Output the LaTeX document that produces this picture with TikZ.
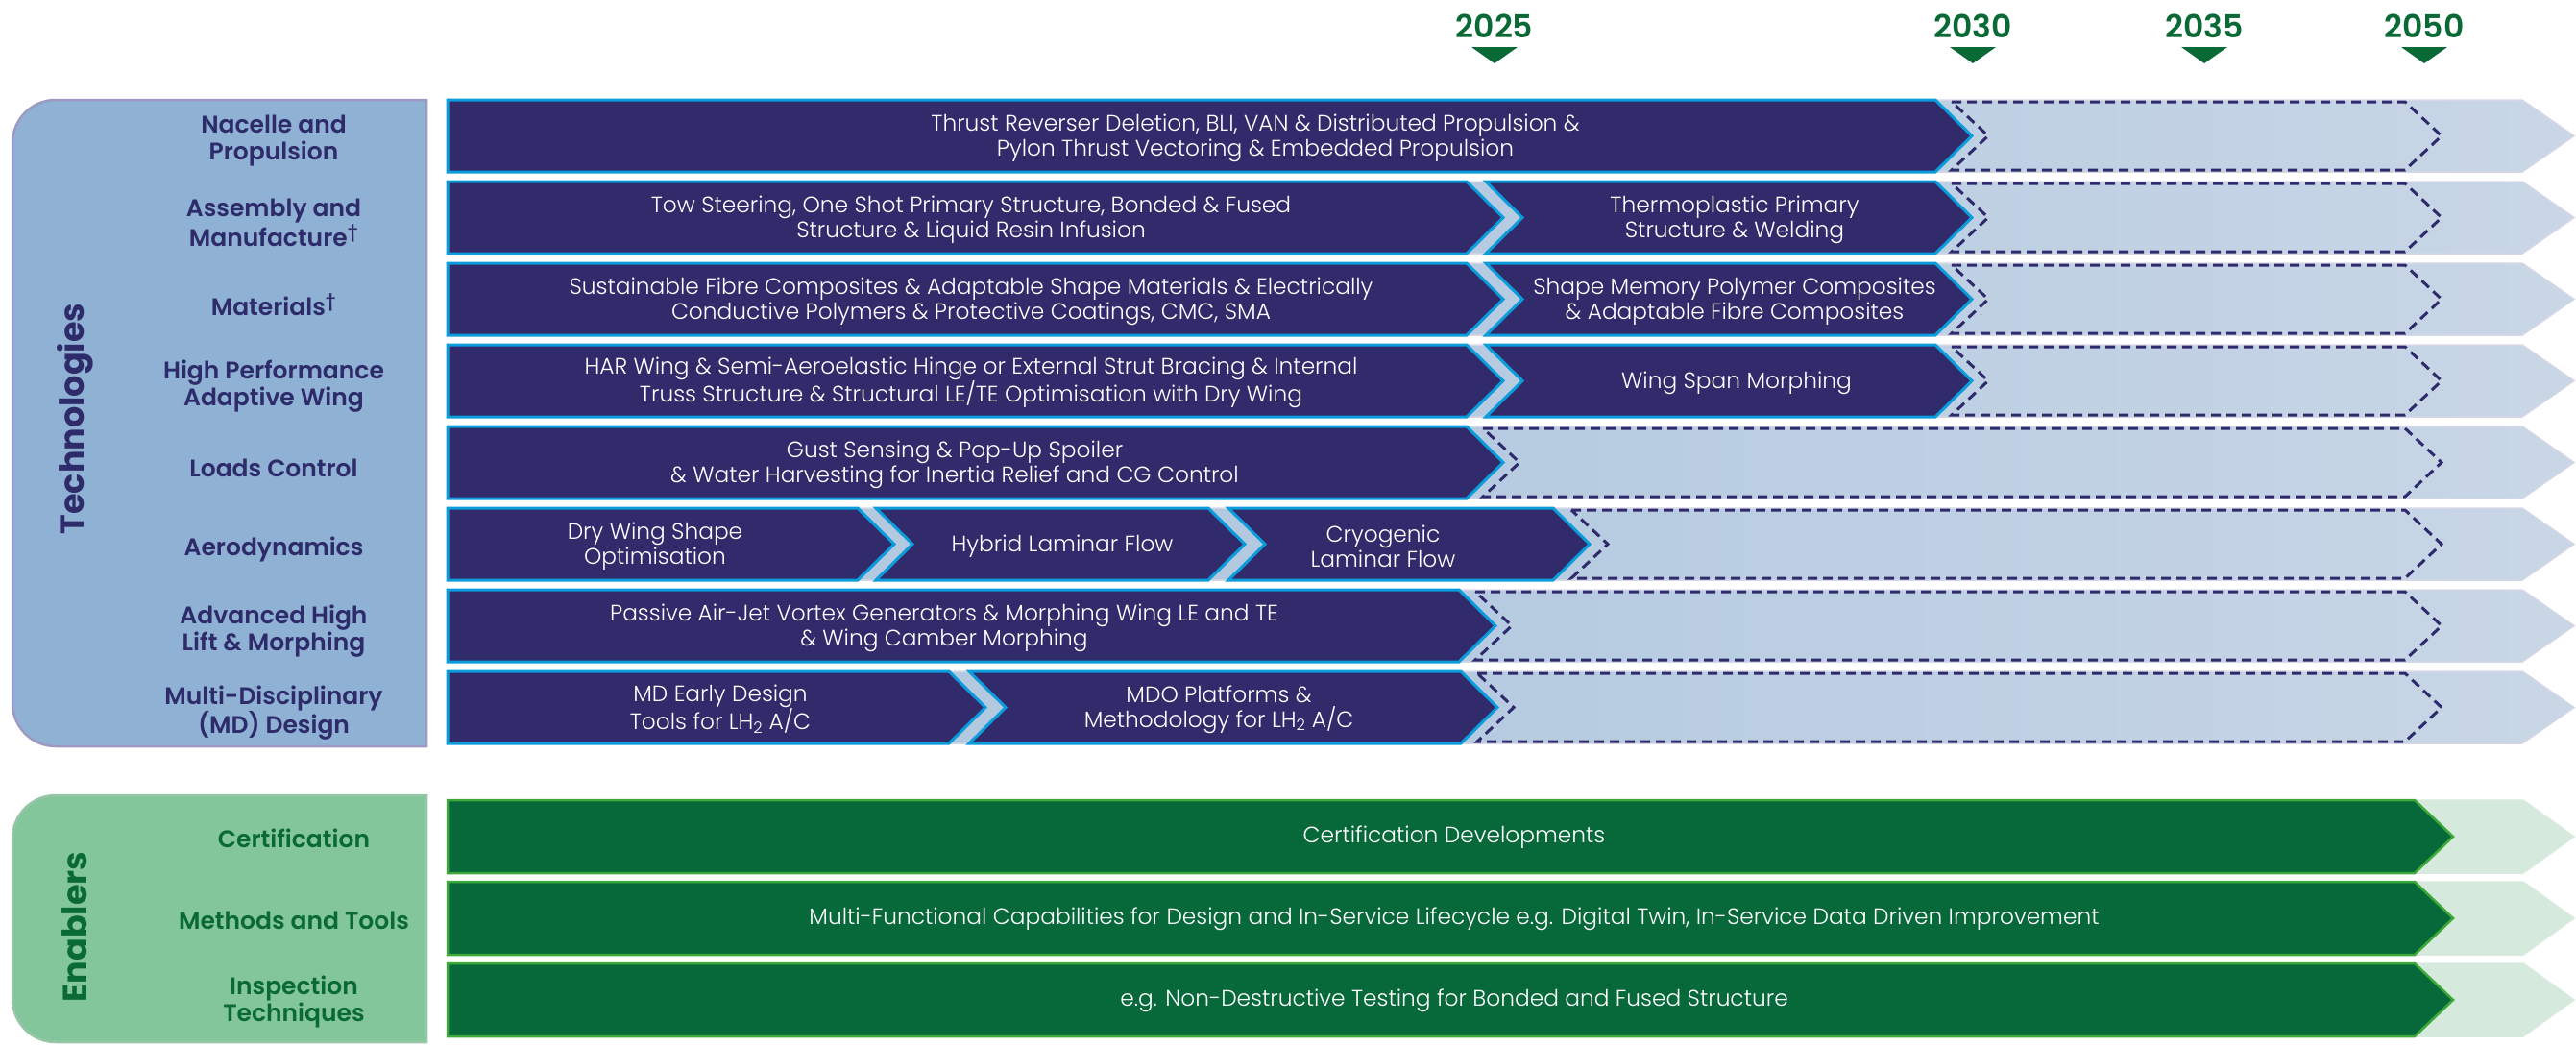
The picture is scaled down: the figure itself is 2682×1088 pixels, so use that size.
\documentclass[tikz,border=0pt]{standalone}
\usepackage{fontspec}
\setmainfont{Poppins}[UprightFont=* Light, BoldFont=* SemiBold]
\newfontfamily\headfont{Poppins}[UprightFont=* Bold]

\definecolor{navy}{HTML}{312B6C}
\definecolor{cyanedge}{HTML}{0A9CDB}
\definecolor{bandA}{HTML}{B3C9E0}
\definecolor{bandB}{HTML}{D2DCE9}
\definecolor{bandC}{HTML}{DCE4EE}
\definecolor{bandedge}{HTML}{D5D7E7}
\definecolor{dashcol}{HTML}{2E2A6B}
\definecolor{panelblue}{HTML}{8FB1D4}
\definecolor{panelblueedge}{HTML}{9C9AC2}
\definecolor{labnavy}{HTML}{2E2B6B}
\definecolor{darkgreen}{HTML}{07693A}
\definecolor{greenedge}{HTML}{3CA938}
\definecolor{lightgreen}{HTML}{D5EADD}
\definecolor{lightgreenedge}{HTML}{D9E9DF}
\definecolor{panelgreen}{HTML}{84C69C}
\definecolor{panelgreenedge}{HTML}{96C5A8}
\definecolor{labgreen}{HTML}{0A6A36}

\pgfdeclarehorizontalshading{bandshade}{100bp}{color(0bp)=(bandA); color(45bp)=(bandA); color(88bp)=(bandB); color(100bp)=(bandC)}

% background band of a technology row (top edge #1)
\newcommand\techband[1]{\path[bandstyle] (466,#1) -- (2626,#1) -- (2680,#1+37.5) -- (2626,#1+75) -- (466,#1+75) -- cycle;}
% first dark segment of a row, ending at #2
\newcommand\darkfirst[2]{\path[segstyle] (466,#1) -- (#2,#1) -- (#2+38,#1+37.5) -- (#2,#1+75) -- (466,#1+75) -- cycle;}
% following dark segment, notched at #2, ending at #3
\newcommand\darknext[3]{\path[segstyle] (#2,#1) -- (#3,#1) -- (#3+38,#1+37.5) -- (#3,#1+75) -- (#2,#1+75) -- (#2+38,#1+37.5) -- cycle;}
% dashed outline of the future part of a row, starting at #2
\newcommand\dashtail[2]{\path[dashstyle] (#2,#1+2) -- (2504,#1+2) -- (2542,#1+37.5) -- (2504,#1+73) -- (#2,#1+73) -- (#2+38,#1+37.5) -- cycle;}
% enabler row: light band and dark green arrow
\newcommand\greenrow[1]{%
  \path[gbandstyle] (466,#1) -- (2627,#1) -- (2680,#1+38) -- (2627,#1+76) -- (466,#1+76) -- cycle;
  \path[gsegstyle] (466,#1) -- (2514,#1) -- (2554,#1+38) -- (2514,#1+76) -- (466,#1+76) -- cycle;}

\begin{document}
\begin{tikzpicture}[x=1pt,y=-1pt,
  bandstyle/.style={shading=bandshade, draw=bandedge, line width=1.5pt},
  segstyle/.style={fill=navy, draw=cyanedge, line width=3pt, line join=miter},
  dashstyle/.style={draw=dashcol, line width=3pt, dash pattern=on 10pt off 6pt},
  gbandstyle/.style={fill=lightgreen, draw=lightgreenedge, line width=1.5pt},
  gsegstyle/.style={fill=darkgreen, draw=greenedge, line width=2.5pt, line join=miter},
  bartext/.style={text=white, align=center, inner sep=0pt, font=\fontsize{23.3}{26}\selectfont},
  techlabel/.style={text=labnavy, align=center, inner sep=0pt, font=\fontsize{25}{28}\selectfont\bfseries},
  enablabel/.style={text=labgreen, align=center, inner sep=0pt, font=\fontsize{25}{28}\selectfont\bfseries},
  yeartext/.style={text=labgreen, inner sep=0pt, font=\fontsize{33}{34}\selectfont\bfseries},
  yearmark/.style={fill=labgreen},
  paneltitle/.style={rotate=90, inner sep=0pt, font=\fontsize{35}{38}\selectfont\headfont}]
\useasboundingbox (0,0) rectangle (2682,1088);

% year markers
\node[yeartext] (y2025) at (1556,27) {2025};
\node[yeartext] (y2030) at (2054,27) {2030};
\node[yeartext] (y2035) at (2295,27) {2035};
\node[yeartext] (y2050) at (2524,27) {2050};
\foreach \xc in {1556,2054,2295,2524}
  \path[yearmark] (\xc-24,49) -- (\xc+24,49) -- (\xc,66) -- cycle;

% side panels
\path[fill=panelblue, draw=panelblueedge, line width=2.5pt]
  (444,104) -- (58,104) arc[start angle=-90, end angle=-180, radius=45]
  -- (13,732) arc[start angle=180, end angle=90, radius=45] -- (444,777) -- cycle;
\path[fill=panelgreen, draw=panelgreenedge, line width=2.5pt]
  (444,828) -- (58,828) arc[start angle=-90, end angle=-180, radius=45]
  -- (13,1040) arc[start angle=180, end angle=90, radius=45] -- (444,1085) -- cycle;
\node[paneltitle, text=labnavy] (techtitle) at (78,436) {Technologies};
\node[paneltitle, text=labgreen] (enabtitle) at (78,965) {Enablers};

% technology rows
\foreach \t in {104,189,274,359,444,529,614,699} {\techband{\t}}
\darkfirst{104}{2015}
\darkfirst{189}{1527} \darknext{189}{1547}{2015}
\darkfirst{274}{1527} \darknext{274}{1547}{2015}
\darkfirst{359}{1527} \darknext{359}{1547}{2015}
\darkfirst{444}{1527}
\darkfirst{529}{893} \darknext{529}{912}{1258} \darknext{529}{1279}{1617}
\darkfirst{614}{1519}
\darkfirst{699}{988} \darknext{699}{1009}{1521}
\dashtail{104}{2032}
\dashtail{189}{2032}
\dashtail{274}{2032}
\dashtail{359}{2032}
\dashtail{444}{1544}
\dashtail{529}{1636}
\dashtail{614}{1536}
\dashtail{699}{1538}

% enabler rows
\greenrow{833}
\greenrow{918}
\greenrow{1003}

% row labels
\node[techlabel] (l1) at (285,147) {Nacelle and\\Propulsion};
\node[techlabel] (l2) at (285,232) {Assembly and\\Manufacture\textsuperscript{†}};
\node[techlabel] (l3) at (285,317) {Materials\textsuperscript{†}};
\node[techlabel] (l4) at (285,402) {High Performance\\Adaptive Wing};
\node[techlabel] (l5) at (285,487) {Loads Control};
\node[techlabel] (l6) at (285,572) {Aerodynamics};
\node[techlabel] (l7) at (285,657) {Advanced High\\Lift \& Morphing};
\node[techlabel] (l8) at (285,742) {Multi-Disciplinary\\(MD) Design};
\node[enablabel] (e1) at (306,873) {Certification};
\node[enablabel] (e2) at (306,958) {Methods and Tools};
\node[enablabel] (e3) at (306,1043) {Inspection\\Techniques};

% bar texts
\node[bartext] (r1a) at (1307,143.5) {Thrust Reverser Deletion, BLI, VAN \& Distributed Propulsion \&\\Pylon Thrust Vectoring \& Embedded Propulsion};
\node[bartext] (r2a) at (1011,228.5) {Tow Steering, One Shot Primary Structure, Bonded \& Fused\\Structure \& Liquid Resin Infusion};
\node[bartext] (r2b) at (1806,228.5) {Thermoplastic Primary\\Structure \& Welding};
\node[bartext] (r3a) at (1011,313.5) {Sustainable Fibre Composites \& Adaptable Shape Materials \& Electrically\\Conductive Polymers \& Protective Coatings, CMC, SMA};
\node[bartext] (r3b) at (1806,313.5) {Shape Memory Polymer Composites\\\& Adaptable Fibre Composites};
\node[bartext] (r4a) at (1011,398.5) {HAR Wing \& Semi-Aeroelastic Hinge or External Strut Bracing \& Internal\\Truss Structure \& Structural LE/TE Optimisation with Dry Wing};
\node[bartext] (r4b) at (1808,398.5) {Wing Span Morphing};
\node[bartext] (r5a) at (994,483.5) {Gust Sensing \& Pop-Up Spoiler\\\& Water Harvesting for Inertia Relief and CG Control};
\node[bartext] (r6a) at (682,568.5) {Dry Wing Shape\\Optimisation};
\node[bartext] (r6b) at (1106,568.5) {Hybrid Laminar Flow};
\node[bartext] (r6c) at (1440,568.5) {Cryogenic\\Laminar Flow};
\node[bartext] (r7a) at (983,653.5) {Passive Air-Jet Vortex Generators \& Morphing Wing LE and TE\\\& Wing Camber Morphing};
\node[bartext] (r8a) at (750,738.5) {MD Early Design\\Tools for LH\textsubscript{2} A/C};
\node[bartext] (r8b) at (1269,738.5) {MDO Platforms \&\\Methodology for LH\textsubscript{2} A/C};
\node[bartext] (g1) at (1514,872) {Certification Developments};
\node[bartext] (g2) at (1514,957) {Multi-Functional Capabilities for Design and In-Service Lifecycle e.g. Digital Twin, In-Service Data Driven Improvement};
\node[bartext] (g3) at (1514,1042) {e.g. Non-Destructive Testing for Bonded and Fused Structure};
\end{tikzpicture}
\end{document}
